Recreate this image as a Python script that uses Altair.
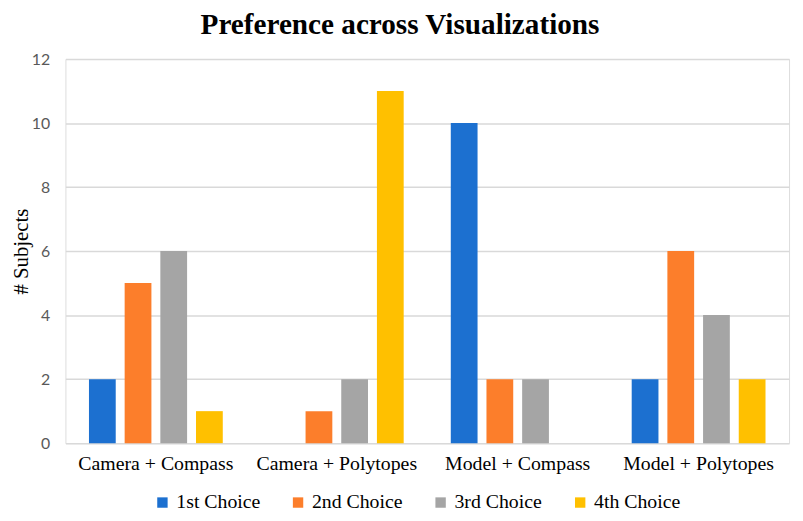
import altair as alt
import pandas as pd

categories = ["Camera + Compass", "Camera + Polytopes", "Model + Compass", "Model + Polytopes"]
series = ["1st Choice", "2nd Choice", "3rd Choice", "4th Choice"]
first_choice = [2, 0, 10, 2]
second_choice = [5, 1, 2, 6]
third_choice = [6, 2, 2, 4]
fourth_choice = [1, 11, 0, 2]
colors = ["#1c70d0", "#fc7e2b", "#a5a5a5", "#ffc000"]
y_ticks = [0, 2, 4, 6, 8, 10, 12]

rows = []
for s, vals in zip(series, [first_choice, second_choice, third_choice, fourth_choice]):
    for c, v in zip(categories, vals):
        rows.append({"Visualization": c, "Choice": s, "Subjects": v})
df = pd.DataFrame(rows)

serif = "Liberation Serif"

chart = alt.Chart(df).mark_bar().encode(
    x=alt.X("Visualization:N", sort=categories,
            scale=alt.Scale(paddingInner=0, paddingOuter=0),
            axis=alt.Axis(title=None, labelAngle=0, labelFont=serif, labelFontSize=20,
                          labelColor="#000000", labelPadding=11, ticks=False, domain=False)),
    xOffset=alt.XOffset("Choice:N", sort=series,
                        scale=alt.Scale(paddingInner=0.25, paddingOuter=0.66)),
    y=alt.Y("Subjects:Q", scale=alt.Scale(domain=[0, 12], nice=False),
            axis=alt.Axis(values=y_ticks, title="# Subjects", titleFont=serif, titleFontSize=21,
                          titleFontWeight="normal", titleColor="#000000",
                          titleX=-44, titleBaseline="middle",
                          labelFont="Lato", labelFontSize=16, labelColor="#595959",
                          labelPadding=16, ticks=False, domain=False,
                          gridColor="#d9d9d9", gridWidth=1.5)),
    color=alt.Color("Choice:N", sort=series,
                    scale=alt.Scale(domain=series, range=colors),
                    legend=alt.Legend(title=None, orient="none", direction="horizontal",
                                      legendX=88, legendY=438, symbolType="square",
                                      symbolSize=110, symbolStrokeWidth=0,
                                      labelFont=serif, labelFontSize=20, labelColor="#000000",
                                      labelOffset=4, columnPadding=28, padding=0)),
).properties(
    width=731,
    height=388,
    title=alt.TitleParams("Preference across Visualizations", font=serif, fontSize=29.5,
                          fontWeight="bold", color="#000000", anchor="middle",
                          frame="bounds", offset=11),
    autosize=alt.AutoSizeParams(type="none"),
    padding={"left": 58, "top": 49, "right": 6, "bottom": 70},
).configure_view(stroke=None).configure(background="#ffffff")

chart.save("out.html", embed_options={"renderer": "svg", "actions": False})
